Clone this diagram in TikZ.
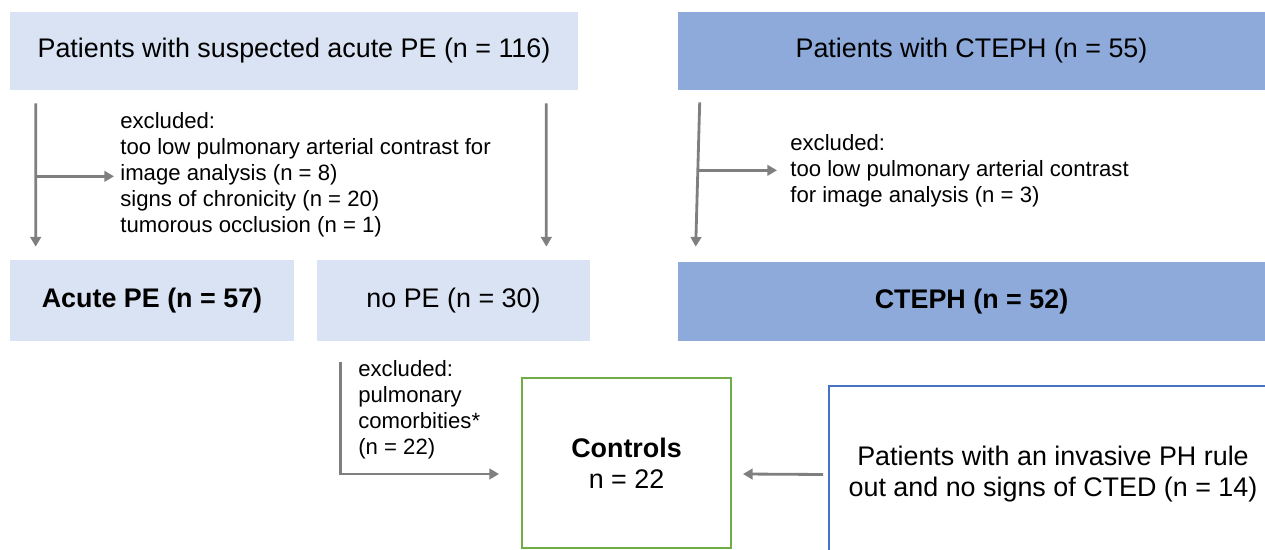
\documentclass[tikz,border=0pt]{standalone}
\usepackage{fontspec}
\setmainfont{Liberation Sans}
\usetikzlibrary{calc,arrows.meta}
\definecolor{lightbox}{HTML}{DAE3F3}
\definecolor{darkbox}{HTML}{8EAADB}
\definecolor{ctrlgreen}{HTML}{70AD47}
\definecolor{ruleblue}{HTML}{4472C4}
\definecolor{arrgrey}{HTML}{7F7F7F}
\tikzset{
  box/.style={rectangle,inner sep=0pt,align=center,font=\fontsize{15.3}{17.6}\selectfont},
  note/.style={inner sep=0pt,align=left,font=\fontsize{12.6}{14.8}\selectfont},
  arr/.style={draw=arrgrey,line width=1.6pt,-{Triangle[length=5.5pt,width=6pt]}}
}

\begin{document}
\begin{tikzpicture}[x=0.02cm,y=-0.02cm]
      \useasboundingbox (0,0) rectangle (1265,550);
      \clip (0,0) rectangle (1265,550);
      \node (pe) [box,fill=lightbox,minimum width=11.36cm,minimum height=1.56cm] at (294,51) {Patients with suspected acute PE (n = 116)};
      \node (ctephall) [box,fill=darkbox,minimum width=11.74cm,minimum height=1.56cm] at (971.5,51) {Patients with CTEPH (n = 55)};
      \node (acute) [box,fill=lightbox,minimum width=5.68cm,minimum height=1.62cm] at (152,300.5) {\textbf{Acute PE (n = 57)}};
      \node (nope) [box,fill=lightbox,minimum width=5.46cm,minimum height=1.62cm] at (453.5,300.5) {no PE (n = 30)};
      \node (cteph) [box,fill=darkbox,minimum width=11.74cm,minimum height=1.58cm] at (971.5,301.5) {\textbf{CTEPH (n = 52)}};
      \node (ctrl) [box,draw=ctrlgreen,line width=1.1pt,minimum width=4.18cm,minimum height=3.40cm] at (626.5,463) {\textbf{Controls}\\n = 22};
      \node (rule) [box,draw=ruleblue,line width=1.1pt,minimum width=8.96cm,minimum height=3.54cm] at (1053,474.5) {Patients with an invasive PH rule\\out and no signs of CTED (n = 14)};
      \node (ex1) [note,anchor=west] at (120,175) {excluded:\\too low pulmonary arterial contrast for\\image analysis (n = 8)\\signs of chronicity (n = 20)\\tumorous occlusion (n = 1)};
      \node (ex2) [note,anchor=west] at (790,171) {excluded:\\too low pulmonary arterial contrast\\for image analysis (n = 3)};
      \node (ex3) [note,anchor=west] at (358,410) {excluded:\\pulmonary\\comorbities*\\(n = 22)};
      \coordinate (c1) at ($ (pe.south west)+(26,13) $);
      \coordinate (c2) at ($ (c1)+(0,73) $);
      \draw [arr] (c1) -- ($ (acute.north west)+(26,-13) $);
      \draw [arr] (c2) -- ($ (ex1.west |- c2)+(-6,0) $);
      \draw [arr] ($ (pe.south east)+(-32,13) $) -- ($ (nope.north east)+(-44,-13) $);
      \coordinate (c3) at ($ (ctephall.south west)+(22,12) $);
      \coordinate (c4) at ($ (c3)+(-1,68) $);
      \draw [arr] (c3) -- ($ (cteph.north west)+(18,-15) $);
      \draw [arr] (c4) -- ($ (ex2.west |- c4)+(-13,0) $);
      \coordinate (c5) at ($ (nope.south west)+(24,21) $);
      \draw [arr] (c5) |- ($ (ctrl.west)+(-22,11) $);
      \draw [arr] ($ (rule.west)+(-5,0) $) -- ($ (ctrl.east)+(11,11) $);
    \end{tikzpicture}
\end{document}
